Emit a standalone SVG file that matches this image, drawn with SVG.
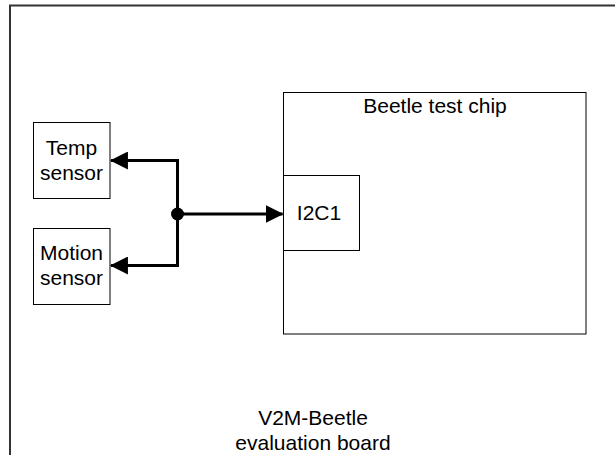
<svg xmlns="http://www.w3.org/2000/svg" width="615" height="455" viewBox="0 0 615 455">
<style>
.box{fill:#fff;stroke:#000;stroke-width:1}
.t{font-family:"Liberation Sans",Arial,sans-serif;font-size:21px;fill:#000;text-anchor:middle}
.wire{fill:none;stroke:#000;stroke-width:3;stroke-linejoin:miter}
</style>
<defs>
<marker id="ah" markerUnits="userSpaceOnUse" markerWidth="18" markerHeight="18" viewBox="0 0 17 17" refX="16" refY="8.5" orient="auto">
<path d="M0,0 L17,8.5 L0,17 Z" fill="#000"/>
</marker>
</defs>
<rect width="615" height="455" fill="#fff"/>
<g id="board">
<rect x="10" y="5.5" width="640" height="480" fill="#fff" stroke="#333" stroke-width="2"/>
<text class="t" x="313" y="425">V2M-Beetle</text>
<text class="t" x="313" y="450">evaluation board</text>
</g>
<g id="chip">
<rect class="box" x="283.5" y="92.5" width="302.5" height="241.5"/>
<text class="t" x="435" y="113">Beetle test chip</text>
</g>
<g id="i2c1">
<rect class="box" x="283.5" y="175.5" width="76" height="75"/>
<text class="t" x="319" y="220">I2C1</text>
</g>
<g id="temp">
<rect class="box" x="33.5" y="122.5" width="76.5" height="76"/>
<text class="t" x="71.5" y="154.5">Temp</text>
<text class="t" x="71.5" y="179.5">sensor</text>
</g>
<g id="motion">
<rect class="box" x="33.5" y="228.5" width="76.5" height="76"/>
<text class="t" x="71.5" y="260">Motion</text>
<text class="t" x="71.5" y="285">sensor</text>
</g>
<g id="connectors">
<path class="wire" d="M177.5,214 L177.5,160.5 L111,160.5" marker-end="url(#ah)"/>
<path class="wire" d="M177.5,214 L177.5,265.5 L111,265.5" marker-end="url(#ah)"/>
<path class="wire" d="M177.5,214 L282.5,214" marker-end="url(#ah)"/>
<circle cx="177.5" cy="214" r="6.5" fill="#000"/>
</g>
</svg>
